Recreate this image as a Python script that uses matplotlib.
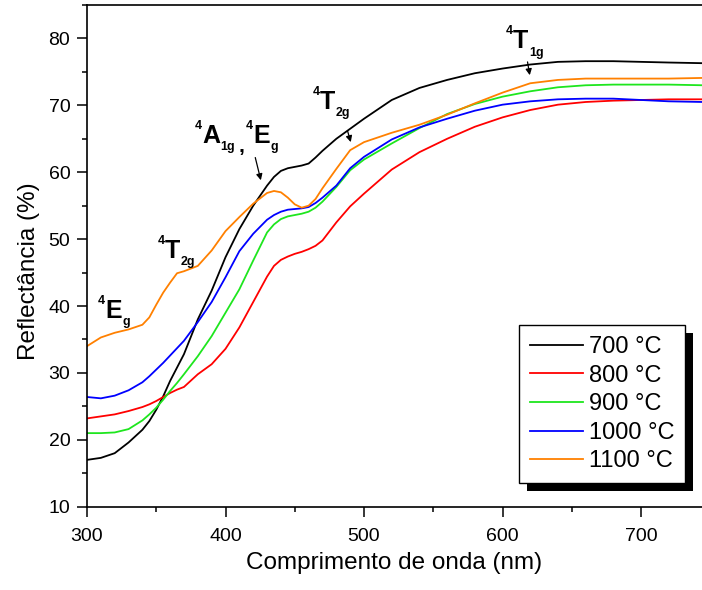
import matplotlib
matplotlib.use("Agg")
import matplotlib.pyplot as plt
from matplotlib.patches import Rectangle
from matplotlib.ticker import MultipleLocator

plt.rcParams["font.family"] = ["Liberation Sans", "DejaVu Sans"]

# wavelength grid (nm)
wl = [300, 310, 320, 330, 340, 345, 350, 355, 360, 365, 370, 380, 390, 400,
      410, 420, 430, 435, 440, 445, 450, 455, 460, 465, 470, 480, 490, 500,
      520, 540, 560, 580, 600, 620, 640, 660, 680, 700, 720, 745]

# reflectance (%) for each calcination temperature
r700 = [17.0, 17.3, 18.0, 19.6, 21.5, 22.8, 24.5, 26.5, 28.8, 30.8, 32.8, 38.0,
        42.3, 47.3, 51.5, 55.0, 58.0, 59.3, 60.2, 60.6, 60.8, 61.0, 61.3, 62.2,
        63.2, 65.0, 66.5, 68.0, 70.8, 72.6, 73.8, 74.8, 75.5, 76.1, 76.5, 76.6,
        76.6, 76.5, 76.4, 76.3]
r800 = [23.2, 23.5, 23.8, 24.3, 24.9, 25.3, 25.8, 26.4, 27.0, 27.5, 27.9, 29.8,
        31.3, 33.6, 36.8, 40.6, 44.4, 46.0, 46.9, 47.4, 47.8, 48.1, 48.5, 49.0,
        49.8, 52.5, 54.9, 56.8, 60.4, 63.0, 65.0, 66.8, 68.2, 69.3, 70.1, 70.5,
        70.7, 70.8, 70.9, 70.9]
r900 = [21.0, 21.0, 21.1, 21.6, 22.9, 23.8, 24.8, 26.0, 27.3, 28.5, 29.8, 32.5,
        35.5, 39.0, 42.5, 46.8, 51.0, 52.2, 53.0, 53.4, 53.6, 53.8, 54.1, 54.7,
        55.6, 57.8, 60.3, 61.9, 64.3, 66.6, 68.7, 70.2, 71.3, 72.1, 72.7, 73.0,
        73.1, 73.1, 73.1, 73.0]
r1000 = [26.4, 26.2, 26.6, 27.4, 28.6, 29.5, 30.5, 31.5, 32.6, 33.7, 34.8, 37.6,
         40.6, 44.3, 48.2, 50.8, 52.9, 53.6, 54.1, 54.4, 54.5, 54.6, 54.8, 55.4,
         56.2, 58.0, 60.6, 62.3, 64.9, 66.7, 68.0, 69.2, 70.1, 70.6, 70.9, 71.0,
         71.0, 70.8, 70.6, 70.5]
r1100 = [34.0, 35.3, 36.0, 36.5, 37.2, 38.3, 40.2, 42.0, 43.5, 44.9, 45.2, 46.0,
         48.3, 51.2, 53.3, 55.3, 56.9, 57.2, 57.0, 56.2, 55.2, 54.7, 55.0, 56.0,
         57.6, 60.5, 63.3, 64.5, 65.9, 67.1, 68.6, 70.3, 71.9, 73.3, 73.8, 74.0,
         74.0, 74.0, 74.0, 74.1]

labels = ["700 °C", "800 °C", "900 °C", "1000 °C", "1100 °C"]
colors = ["black", "#ff0000", "#1ee61e", "#0000ff", "#ff8000"]

# term symbols: (letter, subscript, x, y of baseline)
terms = [("E", "g", 313.0, 38.25),
         ("T", "2g", 356.3, 47.2),
         ("A", "1g", 383.0, 64.4),
         ("E", "g", 419.9, 64.4),
         ("T", "2g", 468.2, 69.5),
         ("T", "1g", 607.6, 78.5)]
arrows = [((421, 62.6), (426, 58.4)),
          ((487.5, 66.6), (491, 64.1)),
          ((617.7, 76.9), (620, 74.1))]

fig = plt.figure(figsize=(7.02, 5.90), dpi=100)
ax = fig.add_axes([87 / 702, (590 - 506.7) / 590, 615 / 702, 501.7 / 590])

for r, lab, c in zip([r700, r800, r900, r1000, r1100], labels, colors):
    ax.plot(wl, r, color=c, lw=1.3, label=lab)

ax.set_xlim(300, 744)
ax.set_ylim(10, 85)
ax.xaxis.set_major_locator(MultipleLocator(100))
ax.xaxis.set_minor_locator(MultipleLocator(50))
ax.yaxis.set_major_locator(MultipleLocator(10))
ax.yaxis.set_minor_locator(MultipleLocator(5))
ax.tick_params(which="major", direction="out", length=7, width=1.1, labelsize=14)
ax.tick_params(axis="x", which="major", pad=8.5)
ax.tick_params(axis="y", which="major", pad=5)
ax.tick_params(which="minor", direction="out", length=3.6, width=1.1)
ax.spines["right"].set_visible(False)
for s in ["left", "bottom", "top"]:
    ax.spines[s].set_linewidth(1.2)

ax.set_xlabel("Comprimento de onda (nm)", fontsize=17.5, labelpad=5)
ax.set_ylabel("Reflectância (%)", fontsize=17.5)
ax.yaxis.set_label_coords(-0.077, 0.47)

# band assignments
size = 18
for letter, sub, x, y in terms:
    m = ax.text(x, y, letter, fontsize=size, fontweight="bold", va="baseline")
    ax.annotate("4", xy=(0, 0), xycoords=m, xytext=(0, 0.76 * size),
                textcoords="offset points", fontsize=0.5 * size,
                fontweight="bold", ha="right", va="baseline")
    ax.annotate(sub, xy=(1, 0), xycoords=m, xytext=(0.5, -0.09 * size),
                textcoords="offset points", fontsize=0.5 * size,
                fontweight="bold", ha="left", va="baseline")
ax.text(409.7, 63.0, ",", fontsize=15, fontweight="bold", va="baseline")

for start, end in arrows:
    ax.annotate("", xy=end, xytext=start,
                arrowprops=dict(arrowstyle="-|>", color="black", lw=0.9,
                                mutation_scale=9))

leg = ax.legend(loc="lower right", bbox_to_anchor=(0.972, 0.047), borderaxespad=0,
                fontsize=17, handlelength=2.25, handletextpad=0.25, labelspacing=0.28,
                borderpad=0.45, fancybox=False, edgecolor="black", framealpha=1)
leg.get_frame().set_linewidth(1.0)

# solid drop shadow behind the legend box
fig.canvas.draw()
bb = leg.get_window_extent().transformed(ax.transAxes.inverted())
sx, sy = 8 / 615, 8 / 501.7
ax.add_patch(Rectangle((bb.x0 + sx, bb.y0 - sy), bb.width, bb.height,
                       transform=ax.transAxes, facecolor="black", edgecolor="none",
                       zorder=4.5, clip_on=False))

fig.savefig("out.png", dpi=100)
